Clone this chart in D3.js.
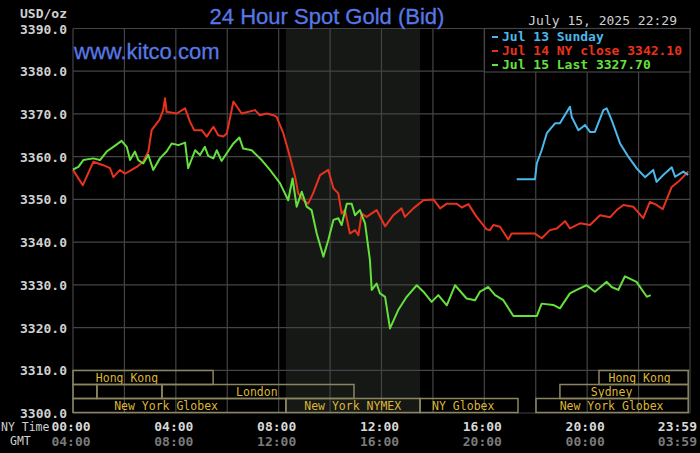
<!DOCTYPE html>
<html><head><meta charset="utf-8">
<script src="https://cdn.jsdelivr.net/npm/d3@7"></script>
<style>html,body{margin:0;padding:0;background:#000;}svg{display:block;}</style>
</head><body>
<script>
// ---- data (hour of NY day, price) ----
const jul14 = [[0,3356.9],[0.38,3353.3],[0.79,3358.8],[1.18,3358],[1.44,3357.3],[1.57,3355.2],[1.83,3356.9],[2.02,3356],[2.28,3356.9],[2.48,3357.6],[2.73,3358.8],[2.93,3361.2],[3.06,3366.2],[3.36,3368.6],[3.51,3370.9],[3.58,3373.7],[3.64,3370.5],[4.03,3370.1],[4.36,3371.3],[4.55,3368.2],[4.71,3366.2],[5.01,3366.2],[5.20,3364.7],[5.46,3367],[5.65,3365],[5.85,3364.7],[5.98,3365.4],[6.24,3372.9],[6.56,3370.1],[7.08,3370.9],[7.27,3369.7],[7.53,3370.1],[7.79,3369.7],[7.92,3369.3],[8.18,3365.5],[8.44,3360],[8.64,3355.3],[8.76,3351.4],[8.96,3349.8],[9.15,3349],[9.34,3351.4],[9.61,3355.7],[9.93,3356.9],[10.13,3352.6],[10.32,3351.4],[10.45,3346.7],[10.58,3347.5],[10.77,3342],[10.97,3342.8],[11.10,3341.6],[11.23,3346.7],[11.42,3345.9],[11.81,3347.5],[12.14,3343.7],[12.46,3346.3],[12.78,3347.9],[12.91,3345.9],[13.24,3347.9],[13.63,3349.8],[14.02,3350],[14.28,3347.9],[14.54,3349],[14.92,3349],[15.12,3348.1],[15.38,3348.9],[15.70,3345.9],[16.09,3343],[16.22,3342.8],[16.35,3344],[16.61,3343.6],[16.93,3340.6],[17.06,3342],[17.97,3342],[18.23,3340.9],[18.55,3342.8],[18.82,3343.2],[19.14,3344.9],[19.33,3343.2],[19.72,3344.4],[20.11,3344],[20.50,3346.3],[20.89,3345.8],[21.15,3347.5],[21.41,3348.7],[21.79,3348.3],[22.18,3345.6],[22.44,3349.4],[22.70,3348.7],[22.94,3347.7],[23.29,3352.9],[23.61,3354.5],[23.93,3356.5]];
const jul15 = [[0,3357],[0.21,3357.6],[0.40,3359.2],[0.79,3359.6],[1.05,3359.2],[1.31,3361.2],[1.57,3362.3],[1.89,3363.7],[2.09,3362.3],[2.22,3359.2],[2.41,3361.2],[2.54,3359.2],[2.73,3358.4],[2.93,3360.4],[3.12,3356.9],[3.38,3359.6],[3.64,3361.2],[3.84,3363.1],[4.10,3362.7],[4.36,3363.3],[4.48,3357.3],[4.75,3361.5],[4.94,3360.4],[5.13,3362.3],[5.26,3360.2],[5.46,3359.6],[5.59,3361.5],[5.78,3359],[5.98,3360.8],[6.24,3363.1],[6.47,3364.5],[6.62,3361.9],[6.95,3361.5],[7.34,3359.2],[7.66,3356.9],[8.05,3353.8],[8.37,3349.8],[8.54,3354.9],[8.70,3348.3],[8.90,3351.8],[9.09,3348.3],[9.28,3347.5],[9.48,3342],[9.74,3336.6],[9.93,3340.5],[10.13,3345.2],[10.32,3345.6],[10.45,3344],[10.65,3349],[10.84,3349],[10.97,3346.3],[11.16,3347.5],[11.36,3344.4],[11.55,3335.8],[11.62,3328.8],[11.81,3330.3],[11.94,3328],[12.14,3327.2],[12.33,3319.8],[12.65,3324.1],[12.98,3327.2],[13.37,3329.9],[13.63,3328.4],[13.95,3326],[14.21,3327.6],[14.54,3325.2],[14.86,3329.9],[15.31,3326.8],[15.64,3326.4],[15.83,3328.4],[15.96,3328.8],[16.15,3329.5],[16.42,3327.6],[16.74,3326.4],[17.13,3322.7],[18.04,3322.7],[18.23,3325.6],[18.68,3325.3],[18.94,3324.5],[19.33,3328],[19.59,3328.8],[19.98,3329.9],[20.30,3328.4],[20.76,3330.7],[20.95,3329.5],[21.21,3328.8],[21.47,3332],[21.92,3330.7],[22.32,3327.2],[22.47,3327.6]];
const jul13 = [[17.26,3354.7],[17.97,3354.7],[18.04,3358.4],[18.23,3361.5],[18.43,3365.5],[18.75,3367.8],[18.94,3367.8],[19.33,3371.7],[19.40,3369.3],[19.66,3366.2],[19.92,3367.4],[20.11,3365.8],[20.30,3365.8],[20.63,3370.9],[20.76,3371.3],[20.95,3368.6],[21.28,3363.1],[21.60,3360],[21.92,3357.3],[22.25,3355.2],[22.57,3356.9],[22.70,3354.1],[22.96,3355.7],[23.29,3357.5],[23.42,3355.3],[23.74,3356.5],[23.93,3355.7]];

const seriesNames = ["Jul 13 Sunday", "Jul 14 NY close 3342.10", "Jul 15 Last 3327.70"];
const seriesColors = ["#4cb8ea", "#e8321e", "#66e03c"];

const yTicks = [3300,3310,3320,3330,3340,3350,3360,3370,3380,3390];
const xTicks = [0,4,8,12,16,20,24];
const nyLabels = ["00:00","04:00","08:00","12:00","16:00","20:00","23:59"];
const gmtLabels = ["04:00","08:00","12:00","16:00","20:00","00:00","03:59"];

// sessions: row, start hour, end hour, label, label-center hour
const sessionRow = [0,0,1,1,1,1,2,2,2,2];
const sessionStart = [0,20.46,0,0.93,3.46,18.94,0,8.28,13.5,18.01];
const sessionEnd = [5.45,23.93,0.93,3.46,10.93,23.93,8.28,13.5,17.31,23.93];
const sessionLabel = ["Hong Kong","Hong Kong","","","London","Sydney","New York Globex","New York NYMEX","NY Globex","New York Globex"];
const sessionLabelAt = [2.1,22.04,0,0,7.15,20.95,3.62,10.88,15.18,20.95];
const shadeRange = [8.28, 13.5];

const W = 700, H = 453;
const svg = d3.select("body").append("svg").attr("width", W).attr("height", H);
svg.append("rect").attr("width", W).attr("height", H).attr("fill", "#000");

const x = d3.scaleLinear().domain([0,24]).range([73,690]);
const y = d3.scaleLinear().domain([3300,3390]).range([413,28.5]);
const mono = "'DejaVu Sans Mono', monospace";
const sans = "'Liberation Sans', Arial, sans-serif";

// shaded NYMEX region
svg.append("rect").attr("x", x(shadeRange[0])).attr("y", y(3390))
  .attr("width", x(shadeRange[1]) - x(shadeRange[0])).attr("height", y(3300) - y(3390))
  .attr("fill", "#151815");

// grid
const grid = svg.append("g").attr("stroke", "#444").attr("stroke-width", 1.2);
d3.range(0, 25, 2).forEach(h => grid.append("line").attr("x1", x(h)).attr("x2", x(h)).attr("y1", y(3390)).attr("y2", y(3300)));
yTicks.forEach(v => grid.append("line").attr("x1", x(0)).attr("x2", x(24)).attr("y1", y(v)).attr("y2", y(v)));

// y labels
svg.append("g").selectAll("text").data(yTicks).join("text")
  .attr("x", 67).attr("y", d => y(d) + 5).attr("text-anchor", "end")
  .attr("font-family", mono).attr("font-size", 13).attr("font-weight", "bold")
  .attr("fill", "#d0d0d0").text(d => d.toFixed(1));
svg.append("text").attr("x", 67).attr("y", 18).attr("text-anchor", "end")
  .attr("font-family", mono).attr("font-size", 13).attr("font-weight", "bold")
  .attr("fill", "#d0d0d0").text("USD/oz");

// x labels
const xl = svg.append("g").attr("font-family", mono).attr("font-size", 13).attr("font-weight", "bold");
xTicks.forEach((h, i) => {
  const last = i === xTicks.length - 1;
  xl.append("text").attr("x", last ? 697 : x(h) - 2).attr("y", 431)
    .attr("text-anchor", last ? "end" : "middle").attr("fill", "#d8d8d8").text(nyLabels[i]);
  xl.append("text").attr("x", last ? 697 : x(h) - 2).attr("y", 446)
    .attr("text-anchor", last ? "end" : "middle").attr("fill", "#7a7a7a").text(gmtLabels[i]);
});
svg.append("text").attr("x", 1).attr("y", 431).attr("font-family", mono).attr("font-size", 11.5)
  .attr("fill", "#d0d0d0").text("NY Time");
svg.append("text").attr("x", 10).attr("y", 445).attr("font-family", mono).attr("font-size", 11.5)
  .attr("fill", "#d0d0d0").text("GMT");

// sessions
const rowTop = [370.5, 384.5, 398.5], rowH = 14;
const sg = svg.append("g");
sessionRow.forEach((r, i) => {
  sg.append("rect").attr("x", x(sessionStart[i])).attr("y", rowTop[r])
    .attr("width", x(sessionEnd[i]) - x(sessionStart[i])).attr("height", rowH)
    .attr("fill", "none").attr("stroke", "#8c8660").attr("stroke-width", 1.5);
  if (sessionLabel[i]) sg.append("text").attr("x", x(sessionLabelAt[i])).attr("y", rowTop[r] + 11)
    .attr("text-anchor", "middle").attr("font-family", mono).attr("font-size", 11.5)
    .attr("fill", "#dcb636").text(sessionLabel[i]);
});

// lines
const line = d3.line().x(d => x(d[0])).y(d => y(d[1]));
[jul14, jul15, jul13].forEach((s, i) => {
  const c = [seriesColors[1], seriesColors[2], seriesColors[0]][i];
  svg.append("path").datum(s).attr("d", line).attr("fill", "none")
    .attr("stroke", c).attr("stroke-width", 2).attr("stroke-linejoin", "round");
});

// legend
svg.append("rect").attr("x", 484.5).attr("y", 28.5).attr("width", 205.5).attr("height", 43.5)
  .attr("fill", "#000").attr("stroke", "#444").attr("stroke-width", 1.2);
seriesNames.forEach((n, i) => {
  svg.append("rect").attr("x", 492).attr("y", 36 + i * 14).attr("width", 6).attr("height", 2)
    .attr("fill", seriesColors[i]);
  svg.append("text").attr("x", 502).attr("y", 41 + i * 14).attr("font-family", mono)
    .attr("font-size", 13).attr("font-weight", "bold").attr("fill", seriesColors[i]).text(n);
});

// titles
svg.append("text").attr("x", 327).attr("y", 24).attr("text-anchor", "middle")
  .attr("font-family", sans).attr("font-size", 22)
  .attr("fill", "#5878e6").attr("stroke", "#5878e6").attr("stroke-width", 0.3)
  .text("24 Hour Spot Gold (Bid)");
svg.append("text").attr("x", 74).attr("y", 59)
  .attr("font-family", sans).attr("font-size", 22)
  .attr("fill", "#5878e6").attr("stroke", "#5878e6").attr("stroke-width", 0.3)
  .text("www.kitco.com");
svg.append("text").attr("x", 677).attr("y", 25).attr("text-anchor", "end")
  .attr("font-family", mono).attr("font-size", 13).attr("fill", "#d0d0d0").text("July 15, 2025 22:29");
</script>
</body></html>
